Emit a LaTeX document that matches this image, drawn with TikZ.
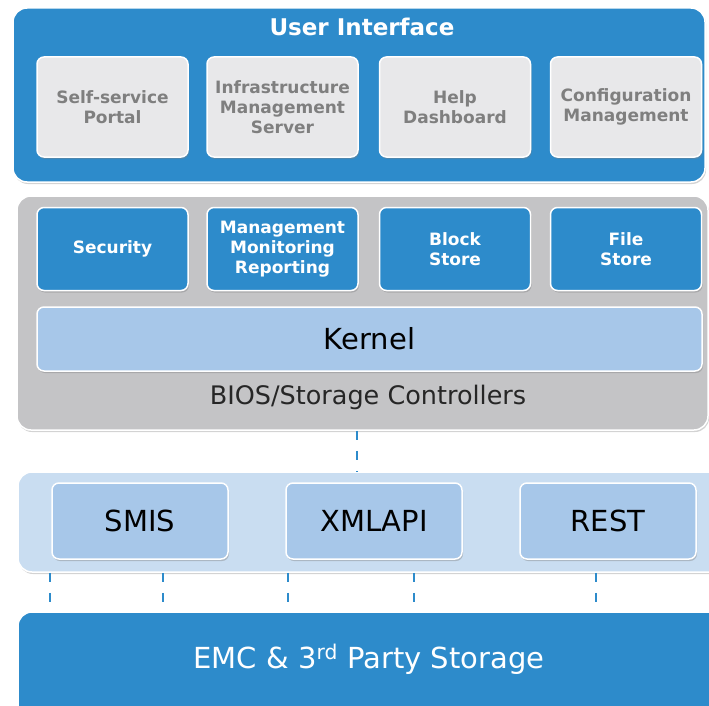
\documentclass[tikz,border=0pt]{standalone}
\usepackage{fontspec}
\setmainfont{DejaVu Sans}
\usetikzlibrary{shadows}

\definecolor{stackblue}{HTML}{2D8BCB}
\definecolor{coregray}{HTML}{C4C4C6}
\definecolor{uigray}{HTML}{E8E8EA}
\definecolor{uitext}{HTML}{7F7F7F}
\definecolor{kernelblue}{HTML}{A7C7E9}
\definecolor{apiblue}{HTML}{C9DDF1}

\begin{document}
\begin{tikzpicture}[x=1pt,y=-1pt]

    \tikzset{
        panel/.style = {draw=white, line width=1.5pt, rounded corners=14pt, inner sep=0pt,
                        drop shadow={shadow xshift=1pt, shadow yshift=-2pt, opacity=0.35}},
        card/.style  = {draw=white, line width=1.5pt, rounded corners=7pt, inner sep=0pt, align=center,
                        drop shadow={shadow xshift=1pt, shadow yshift=-2pt, opacity=0.4}},
        uicard/.style   = {card, fill=uigray, text=uitext, minimum width=151pt, minimum height=100pt,
                           font=\fontsize{17}{20}\selectfont\bfseries},
        corecard/.style = {card, fill=stackblue, text=white, minimum width=151pt, minimum height=83pt,
                           font=\fontsize{17}{20}\selectfont\bfseries},
        apicard/.style  = {card, fill=kernelblue, text=black, minimum width=176pt, minimum height=76pt,
                           font=\fontsize{29}{32}\selectfont},
        link/.style = {stackblue, line width=2pt, dash pattern=on 9pt off 11pt}
    }

    \useasboundingbox (0,0) rectangle (709,706);

    % layers
    \node[panel, fill=stackblue, minimum width=692pt, minimum height=174pt] (ui) at (359,95) {};
    \node[panel, fill=coregray, minimum width=691pt, minimum height=234pt] (core) at (362.5,313) {};
    \node[panel, fill=apiblue, minimum width=712pt, minimum height=100pt] (api) at (374,522) {};
    \node[panel, fill=stackblue, minimum width=712pt, minimum height=108pt] (emc) at (374,666) {};

    % user interface
    \node[text=white, font=\fontsize{23}{26}\selectfont\bfseries] (uititle) at (362,27) {User Interface};
    \node[uicard] (portal) at (112.5,107) {Self-service\\Portal};
    \node[uicard] (infra)  at (282.5,107) {Infrastructure\\Management\\Server};
    \node[uicard] (help)   at (455,107)   {Help\\Dashboard};
    \node[uicard] (config) at (626,107)   {Configuration\\Management};

    % core services
    \node[corecard] (security) at (112.5,249) {Security};
    \node[corecard] (mgmt)     at (282.5,249) {Management\\Monitoring\\Reporting};
    \node[corecard] (block)    at (455,249)   {Block\\Store};
    \node[corecard] (file)     at (626,249)   {File\\Store};
    \node[card, fill=kernelblue, minimum width=665pt, minimum height=64pt,
          font=\fontsize{29}{32}\selectfont] (kernel) at (369.5,339) {Kernel};
    \node[font=\fontsize{25.5}{28}\selectfont, text=black!85] (bios) at (368,397) {BIOS/Storage Controllers};

    % api
    \node[apicard] (smis)   at (140,521) {SMIS};
    \node[apicard] (xmlapi) at (374,521) {XMLAPI};
    \node[apicard] (rest)   at (608,521) {REST};

    % storage
    \node[text=white, font=\fontsize{29}{32}\selectfont] (storage) at (369,659) {EMC \& 3\textsuperscript{rd} Party Storage};

    % connections
    \coordinate (top) at (357,0);
    \draw[link] (core.south -| top) -- (api.north -| top);
    \foreach \x in {50,163,288,414,596} {
        \coordinate (down) at (\x,0);
        \draw[link] (api.south -| down) -- (emc.north -| down);
    }
\end{tikzpicture}
\end{document}
